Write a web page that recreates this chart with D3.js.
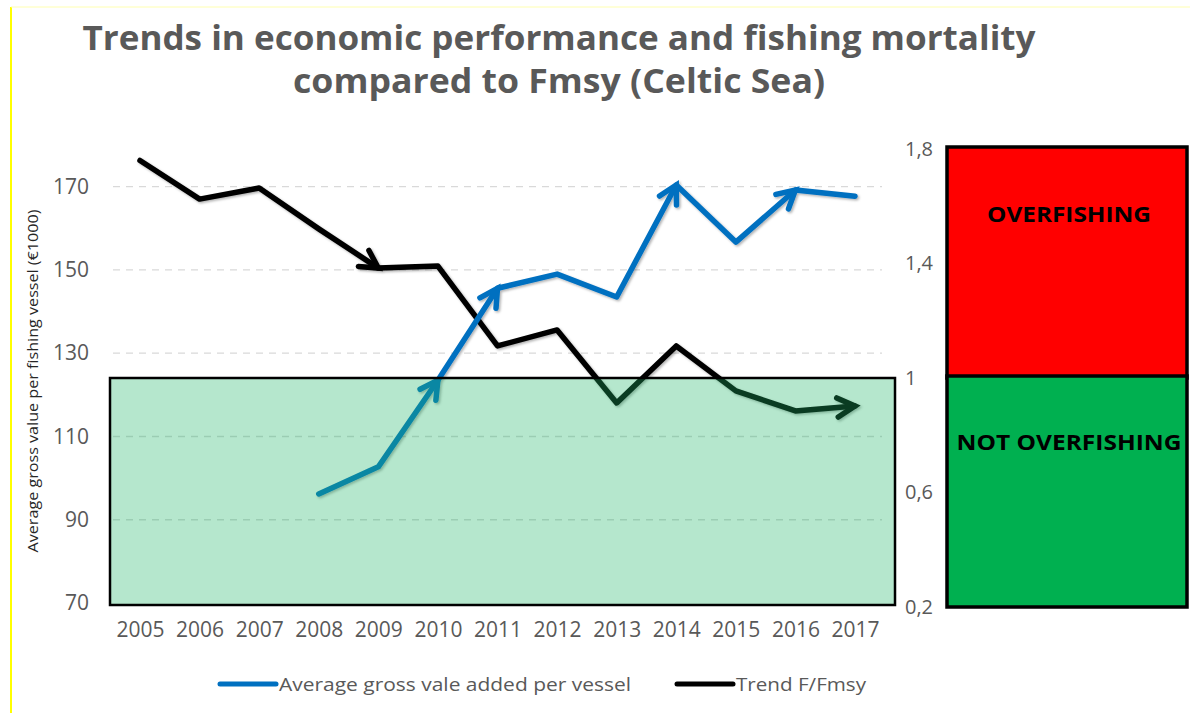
<!DOCTYPE html>
<html lang="en">
<head>
    <meta charset="UTF-8">
    <title>Trends in economic performance and fishing mortality</title>
    <script src="https://d3js.org/d3.v7.min.js"></script>
    <style>
        body { margin: 0; background: #fff; }
        svg text { font-family: "Open Sans", "Noto Sans", sans-serif; }
    </style>
</head>
<body>
    <svg id="chart" width="1190" height="713"></svg>

    <script>
        // Datos
        const years = ["2005", "2006", "2007", "2008", "2009", "2010", "2011",
                       "2012", "2013", "2014", "2015", "2016", "2017"];
        // Valor añadido bruto medio por buque (€1000), eje izquierdo (sin datos 2005-2007)
        const gvaValues = [null, null, null, 96.2, 102.7, 123.5, 145.6,
                           149.0, 143.5, 170.4, 156.7, 169.2, 167.7];
        // Tendencia F/Fmsy, eje derecho
        const fValues = [1.76, 1.625, 1.664, 1.521, 1.384, 1.391, 1.112,
                         1.168, 0.913, 1.112, 0.955, 0.885, 0.902];
        // Años donde la línea termina en flecha
        const gvaArrows = ["2010", "2011", "2014", "2016"];
        const fArrows = ["2009", "2017"];
        const leftTicks = [70, 90, 110, 130, 150, 170];
        const rightTicks = [0.2, 0.6, 1, 1.4, 1.8];
        const fmsyLimit = 1;
        const titleLines = ["Trends in economic performance and fishing mortality",
                            "compared to Fmsy (Celtic Sea)"];
        const legendLabels = ["Average gross vale added per vessel", "Trend F/Fmsy"];

        const svg = d3.select("#chart");
        const grey = "#595959";
        const blue = "#0070c0";

        // sombra suave de las líneas
        const defs = svg.append("defs");
        const shadow = defs.append("filter").attr("id", "shadow")
            .attr("x", "-10%").attr("y", "-10%").attr("width", "120%").attr("height", "120%");
        shadow.append("feDropShadow")
            .attr("dx", 1.5).attr("dy", 1.5).attr("stdDeviation", 1.2)
            .attr("flood-color", "#000").attr("flood-opacity", 0.3);

        // borde amarillo
        svg.append("line").attr("x1", 11).attr("x2", 11).attr("y1", 7).attr("y2", 713)
           .attr("stroke", "#ffff00").attr("stroke-width", 2);
        svg.append("line").attr("x1", 11).attr("x2", 1190).attr("y1", 7).attr("y2", 7)
           .attr("stroke", "#ffffb0").attr("stroke-width", 1);

        // Escalas
        const x = d3.scalePoint().domain(years).range([140, 855]);
        const yLeft = d3.scaleLinear().domain([70, 170]).range([603, 186.7]);
        const yRight = d3.scaleLinear().domain([0.2, 1.8]).range([607, 149]);

        // Título
        const titleWidths = [953, 532];
        svg.selectAll(".title")
           .data(titleLines)
           .enter()
           .append("text")
           .attr("x", (d, i) => 559 - titleWidths[i] / 2)
           .attr("y", (d, i) => 50 + i * 43)
           .attr("font-size", "34px")
           .attr("font-weight", "bold")
           .attr("fill", grey)
           .attr("textLength", (d, i) => titleWidths[i])
           .attr("lengthAdjust", "spacingAndGlyphs")
           .text(d => d);

        // Líneas de cuadrícula
        svg.append("g")
           .selectAll("line")
           .data(leftTicks.filter(d => d > 70))
           .enter()
           .append("line")
           .attr("x1", 113).attr("x2", 882)
           .attr("y1", d => yLeft(d)).attr("y2", d => yLeft(d))
           .attr("stroke", "#d9d9d9")
           .attr("stroke-width", 1.3)
           .attr("stroke-dasharray", "7,6");

        // Eje izquierdo
        const axLeft = svg.append("g")
           .attr("transform", "translate(91,0)")
           .call(d3.axisLeft(yLeft).tickValues(leftTicks).tickSize(0).tickPadding(2));
        axLeft.select(".domain").remove();
        axLeft.selectAll("text").attr("font-size", "21px").attr("fill", grey)
              .style("font-family", "'Open Sans', sans-serif");

        // Eje derecho
        const axRight = svg.append("g")
           .attr("transform", "translate(903,0)")
           .call(d3.axisRight(yRight).tickValues(rightTicks).tickSize(0).tickPadding(2)
                   .tickFormat(d => String(d).replace(".", ",")));
        axRight.select(".domain").remove();
        axRight.selectAll("text").attr("font-size", "20px").attr("fill", grey)
               .style("font-family", "'Open Sans', sans-serif");

        // Eje X
        const axBottom = svg.append("g")
           .attr("transform", "translate(0,613)")
           .call(d3.axisBottom(x).tickSize(0).tickPadding(9));
        axBottom.select(".domain").remove();
        axBottom.selectAll("text").attr("font-size", "21px").attr("fill", grey)
                .style("font-family", "'Open Sans', sans-serif");

        // Título del eje Y
        svg.append("text")
           .attr("transform", "rotate(-90)")
           .attr("x", -381)
           .attr("y", 38)
           .attr("text-anchor", "middle")
           .attr("font-size", "15px")
           .attr("fill", "#262626")
           .attr("textLength", 343)
           .attr("lengthAdjust", "spacingAndGlyphs")
           .text("Average gross value per fishing vessel (€1000)");

        // Líneas
        const gvaData = years.map((y, i) => ({year: y, v: gvaValues[i]})).filter(d => d.v !== null);
        const fData = years.map((y, i) => ({year: y, v: fValues[i]}));

        function drawSeries(data, yScale, color, arrowYears) {
            const g = svg.append("g").attr("filter", "url(#shadow)");
            const line = d3.line().x(d => x(d.year)).y(d => yScale(d.v));
            g.append("path")
             .datum(data)
             .attr("fill", "none")
             .attr("stroke", color)
             .attr("stroke-width", 5.5)
             .attr("stroke-linejoin", "round")
             .attr("stroke-linecap", "round")
             .attr("d", line);

            // puntas de flecha abiertas
            data.forEach((d, i) => {
                if (!arrowYears.includes(d.year) || i === 0) return;
                const p = data[i - 1];
                const tx = x(d.year), ty = yScale(d.v);
                const ang = Math.atan2(ty - yScale(p.v), tx - x(p.year));
                const len = 20, spread = 0.5;
                const a1 = [tx - len * Math.cos(ang - spread), ty - len * Math.sin(ang - spread)];
                const a2 = [tx - len * Math.cos(ang + spread), ty - len * Math.sin(ang + spread)];
                g.append("path")
                 .attr("d", `M${a1[0]},${a1[1]}L${tx},${ty}L${a2[0]},${a2[1]}`)
                 .attr("fill", "none")
                 .attr("stroke", color)
                 .attr("stroke-width", 5.5)
                 .attr("stroke-linejoin", "miter")
                 .attr("stroke-linecap", "round");
            });
        }

        drawSeries(fData, yRight, "#000", fArrows);
        drawSeries(gvaData, yLeft, blue, gvaArrows);

        // Zona sin sobrepesca (semitransparente, por encima de las líneas)
        svg.append("rect")
           .attr("x", 110)
           .attr("y", yRight(fmsyLimit))
           .attr("width", 785)
           .attr("height", yLeft(70) + 2 - yRight(fmsyLimit))
           .attr("fill", "rgb(30,181,104)")
           .attr("fill-opacity", 0.33)
           .attr("stroke", "#000")
           .attr("stroke-width", 2.5);

        // Cajas de estado
        const boxes = [
            {from: 1.8, to: fmsyLimit, fill: "#ff0000", label: "OVERFISHING", ly: 222, w: 164},
            {from: fmsyLimit, to: 0.2, fill: "#00b050", label: "NOT OVERFISHING", ly: 450, w: 225}
        ];
        svg.selectAll(".box")
           .data(boxes)
           .enter()
           .append("rect")
           .attr("x", 947)
           .attr("y", d => yRight(d.from) - 2)
           .attr("width", 240)
           .attr("height", d => yRight(d.to) - yRight(d.from) + 2)
           .attr("fill", d => d.fill)
           .attr("stroke", "#000")
           .attr("stroke-width", 3.5);
        svg.selectAll(".boxlabel")
           .data(boxes)
           .enter()
           .append("text")
           .attr("x", d => 1069 - d.w / 2)
           .attr("y", d => d.ly)
           .attr("font-size", "21px")
           .attr("font-weight", "bold")
           .attr("fill", "#000")
           .attr("textLength", d => d.w)
           .attr("lengthAdjust", "spacingAndGlyphs")
           .text(d => d.label);

        // Leyenda
        const legend = [
            {label: legendLabels[0], color: blue, x: 220, w: 352},
            {label: legendLabels[1], color: "#000", x: 677, w: 130}
        ];
        const lg = svg.selectAll(".legend")
           .data(legend)
           .enter()
           .append("g")
           .attr("transform", d => `translate(${d.x},684)`);
        lg.append("line")
          .attr("x1", 0).attr("x2", 56)
          .attr("stroke", d => d.color)
          .attr("stroke-width", 5)
          .attr("stroke-linecap", "round");
        lg.append("text")
          .attr("x", 59)
          .attr("dy", "0.35em")
          .attr("font-size", "19px")
          .attr("fill", grey)
          .attr("textLength", d => d.w)
          .attr("lengthAdjust", "spacingAndGlyphs")
          .text(d => d.label);
    </script>
</body>
</html>
